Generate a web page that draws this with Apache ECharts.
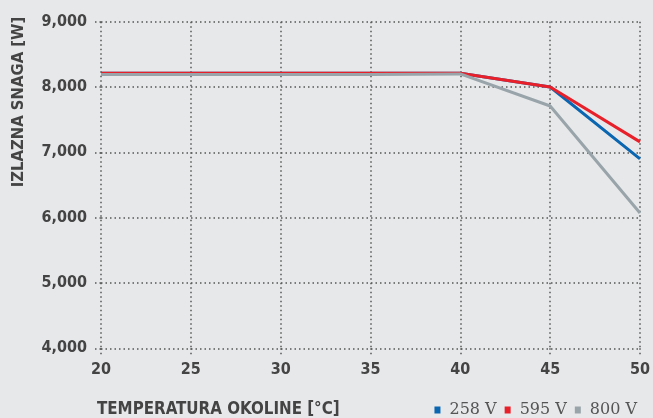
<!DOCTYPE html>
<html>
<head>
<meta charset="utf-8">
<script src="https://cdn.jsdelivr.net/npm/echarts@6/dist/echarts.min.js"></script>
<style>
html,body{margin:0;padding:0;background:#e7e8ea;}
#c{width:653px;height:418px;}
</style>
</head>
<body>
<div id="c"></div>
<script>
var categories = [20, 25, 30, 35, 40, 45, 50];
var v258 = [8210, 8210, 8210, 8210, 8210, 8000, 6900];
var v595 = [8210, 8210, 8210, 8210, 8210, 8000, 7160];
var v800 = [8190, 8190, 8190, 8190, 8200, 7710, 6070];
var seriesNames = ['258 V', '595 V', '800 V'];
var colors = ['#0a66b0', '#e8202a', '#98a4aa'];
var yTicks = [4000, 5000, 6000, 7000, 8000, 9000];

var font = '"DejaVu Sans Condensed", "Liberation Sans Narrow", sans-serif';
var chart = echarts.init(document.getElementById('c'));
function pairs(vals){ return categories.map(function(c,i){ return [c, vals[i]]; }); }
var data = [v258, v595, v800];
var gridLine = {color:'#555', type:[1.5,3], width:1.5};
chart.setOption({
  backgroundColor:'#e7e8ea',
  animation:false,
  color: colors,
  graphic:[{
    type:'text', x:19, y:102, rotation:Math.PI/2,
    style:{text:'IZLAZNA SNAGA [W]', fontFamily:font, fontWeight:'bold', fontSize:16.5, fill:'#444', align:'center', verticalAlign:'middle'}
  },{
    type:'text', x:97, y:410,
    style:{text:'TEMPERATURA OKOLINE [°C]', fontFamily:font, fontWeight:'bold', fontSize:16.8, fill:'#444', align:'left', verticalAlign:'middle'}
  }],
  legend:{
    right:11, bottom:-5,
    itemWidth:6, itemHeight:7, itemGap:8,
    icon:'rect',
    textStyle:{fontFamily:'"DejaVu Serif", "Liberation Serif", serif', fontSize:16, color:'#555', padding:[0,0,0,4]},
    data: seriesNames
  },
  grid:{left:101, right:12, top:21.7, bottom:69.7},
  xAxis:{
    type:'value', min:20, max:50, interval:5,
    axisLine:{show:false},
    axisTick:{show:true, length:8, lineStyle:gridLine},
    splitLine:{show:true, lineStyle:gridLine},
    axisLabel:{margin:14, fontFamily:font, fontWeight:'bold', fontSize:16, color:'#444'}
  },
  yAxis:{
    type:'value', min:4000, max:9000, interval:1000,
    axisLine:{show:false},
    axisTick:{show:true, length:8, lineStyle:gridLine},
    splitLine:{show:true, lineStyle:gridLine},
    axisLabel:{margin:14, fontFamily:font, fontWeight:'bold', fontSize:16, color:'#444',
      formatter:function(v){ return v.toLocaleString('en-US'); }}
  },
  series: seriesNames.map(function(n,i){
    return {name:n, type:'line', data:pairs(data[i]), showSymbol:false, symbol:'none',
      lineStyle:{width:3, color:colors[i]}, itemStyle:{color:colors[i]}};
  })
});
</script>
</body>
</html>
